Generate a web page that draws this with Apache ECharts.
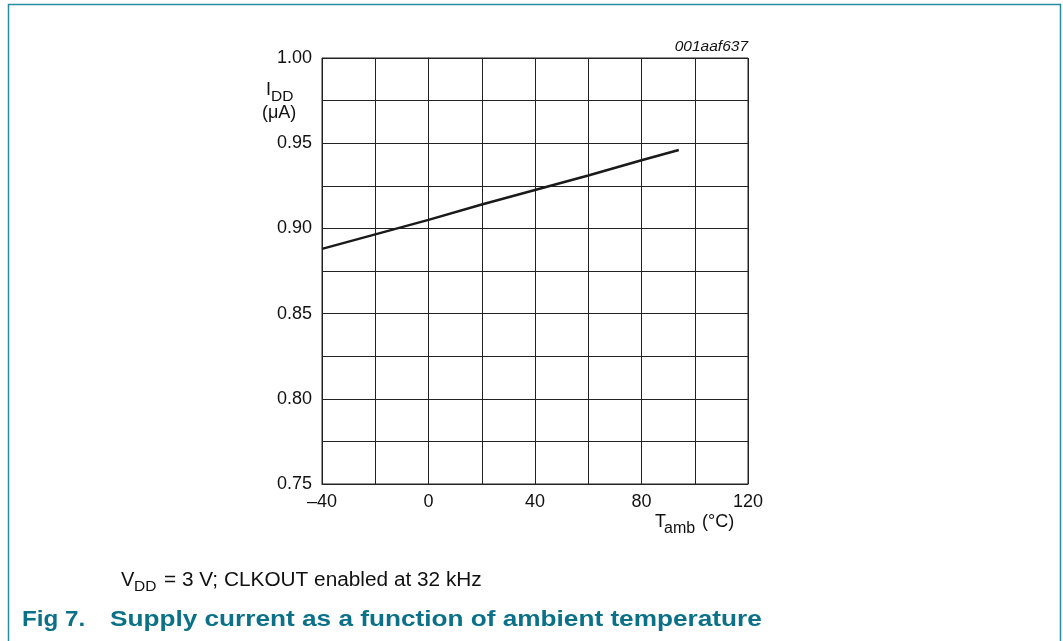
<!DOCTYPE html>
<html>
<head>
<meta charset="utf-8">
<script src="https://cdn.jsdelivr.net/npm/echarts@6/dist/echarts.min.js"></script>
<style>
html,body{margin:0;padding:0;background:#fff;}
#c{width:1063px;height:641px;}
</style>
</head>
<body>
<div id="c"></div>
<script>
const temps = [-40, -20, 0, 20, 40, 60, 80, 94];
const idd = [0.888, 0.8965, 0.905, 0.914, 0.9225, 0.931, 0.940, 0.946];
const xTickLabels = [-40, 0, 40, 80, 120];
const yTickLabels = [0.75, 0.80, 0.85, 0.90, 0.95, 1.00];

const chart = echarts.init(document.getElementById('c'), null, {renderer: 'canvas'});
const FONT = '"Liberation Sans", Arial, sans-serif';
const TEAL = '#2a8aa0';
const TITLE = '#0a7189';

const option = {
  animation: false,
  backgroundColor: '#fff',
  grid: {left: 322, top: 58, width: 426, height: 426, show: true, borderColor: '#222', borderWidth: 1},
  xAxis: {
    type: 'value', min: -40, max: 120, interval: 20,
    axisLine: {show: true, lineStyle: {color: '#222', width: 1}},
    axisTick: {show: false},
    splitLine: {show: true, lineStyle: {color: '#222', width: 1}},
    axisLabel: {
      color: '#111', fontFamily: FONT, fontSize: 18, margin: 9,
      formatter: v => xTickLabels.includes(v) ? (v < 0 ? '\u2013' + Math.abs(v) : String(v)) : ''
    }
  },
  yAxis: {
    type: 'value', min: 0.75, max: 1.0, interval: 0.025,
    axisLine: {show: true, lineStyle: {color: '#222', width: 1}},
    axisTick: {show: false},
    splitLine: {show: true, lineStyle: {color: '#222', width: 1}},
    axisLabel: {
      color: '#111', fontFamily: FONT, fontSize: 18, margin: 10,
      formatter: v => {
        const m = yTickLabels.find(t => Math.abs(t - v) < 1e-6);
        return m !== undefined ? m.toFixed(2) : '';
      }
    }
  },
  series: [{
    type: 'line',
    data: temps.map((t, i) => [t, idd[i]]),
    showSymbol: false,
    lineStyle: {color: '#1a1a1a', width: 2.5},
    z: 5
  }],
  graphic: [
    {type: 'rect', shape: {x: 8.5, y: 4.5, width: 1052, height: 700}, style: {fill: 'none', stroke: TEAL, lineWidth: 1.5}},
    {type: 'text', x: 748, y: 47, style: {text: '001aaf637', font: 'italic 15.5px ' + FONT, fill: '#111', align: 'right', verticalAlign: 'middle'}},
    {type: 'text', x: 266, y: 90, style: {text: 'I', font: '18px ' + FONT, fill: '#111', verticalAlign: 'middle'}},
    {type: 'text', x: 271, y: 97, style: {text: 'DD', font: '15.5px ' + FONT, fill: '#111', verticalAlign: 'middle'}},
    {type: 'text', x: 262, y: 113, style: {text: '(\u03bcA)', font: '18px ' + FONT, fill: '#111', verticalAlign: 'middle'}},
    {type: 'text', x: 655, y: 522, style: {text: 'T', font: '18px ' + FONT, fill: '#111', verticalAlign: 'middle'}},
    {type: 'text', x: 664, y: 529, style: {text: 'amb', font: '16px ' + FONT, fill: '#111', verticalAlign: 'middle'}},
    {type: 'text', x: 702, y: 522, style: {text: '(\u00b0C)', font: '18px ' + FONT, fill: '#111', verticalAlign: 'middle'}},
    {type: 'text', x: 121, y: 580, style: {text: 'V', font: '20px ' + FONT, fill: '#111', verticalAlign: 'middle'}},
    {type: 'text', x: 134, y: 587, style: {text: 'DD', font: '15.5px ' + FONT, fill: '#111', verticalAlign: 'middle'}},
    {type: 'text', x: 164, y: 580, scaleX: 1.04, style: {text: '= 3 V; CLKOUT enabled at 32 kHz', font: '20px ' + FONT, fill: '#111', verticalAlign: 'middle'}},
    {type: 'text', x: 22, y: 620, scaleX: 1.1, style: {text: 'Fig 7.', font: 'bold 22px ' + FONT, fill: TITLE, verticalAlign: 'middle'}},
    {type: 'text', x: 110, y: 620, scaleX: 1.19, style: {text: 'Supply current as a function of ambient temperature', font: 'bold 22px ' + FONT, fill: TITLE, verticalAlign: 'middle'}}
  ]
};
chart.setOption(option);
</script>
</body>
</html>
